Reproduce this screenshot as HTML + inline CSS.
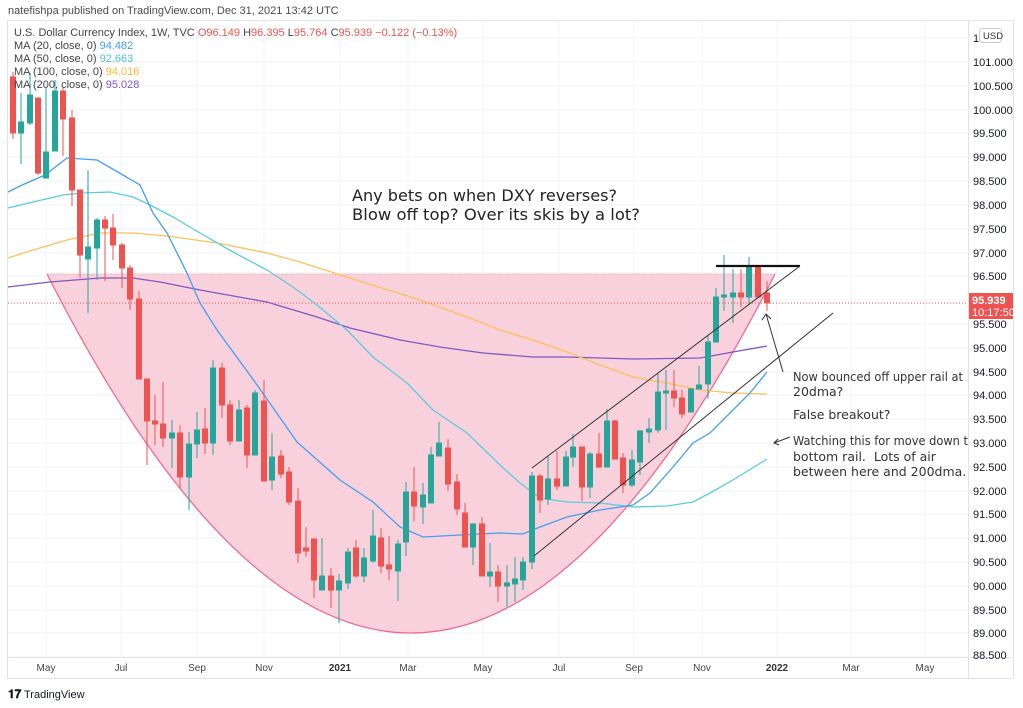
<!DOCTYPE html>
<html><head><meta charset="utf-8"><style>
html,body{margin:0;padding:0;background:#fff;}
svg{display:block;font-family:"Liberation Sans",sans-serif;}
</style></head><body>
<svg width="1023" height="708" viewBox="0 0 1023 708" xmlns="http://www.w3.org/2000/svg">
<rect width="1023" height="708" fill="#fff"/>
<text x="8" y="14" font-size="11" fill="#4a4a4a">natefishpa published on TradingView.com, Dec 31, 2021 13:42 UTC</text>
<rect x="7.5" y="20.5" width="1006" height="658" fill="#fff" stroke="#e0e3eb"/>
<!-- grid -->
<g stroke="#f0f3fa" stroke-width="1">
<line x1="8" x2="968" y1="38" y2="38"/><line x1="8" x2="968" y1="62" y2="62"/><line x1="8" x2="968" y1="86" y2="86"/><line x1="8" x2="968" y1="110" y2="110"/><line x1="8" x2="968" y1="133" y2="133"/><line x1="8" x2="968" y1="157" y2="157"/><line x1="8" x2="968" y1="181" y2="181"/><line x1="8" x2="968" y1="205" y2="205"/><line x1="8" x2="968" y1="229" y2="229"/><line x1="8" x2="968" y1="253" y2="253"/><line x1="8" x2="968" y1="276" y2="276"/><line x1="8" x2="968" y1="300" y2="300"/><line x1="8" x2="968" y1="324" y2="324"/><line x1="8" x2="968" y1="348" y2="348"/><line x1="8" x2="968" y1="372" y2="372"/><line x1="8" x2="968" y1="395" y2="395"/><line x1="8" x2="968" y1="419" y2="419"/><line x1="8" x2="968" y1="443" y2="443"/><line x1="8" x2="968" y1="467" y2="467"/><line x1="8" x2="968" y1="491" y2="491"/><line x1="8" x2="968" y1="514" y2="514"/><line x1="8" x2="968" y1="538" y2="538"/><line x1="8" x2="968" y1="562" y2="562"/><line x1="8" x2="968" y1="586" y2="586"/><line x1="8" x2="968" y1="610" y2="610"/><line x1="8" x2="968" y1="633" y2="633"/><line x1="8" x2="968" y1="657" y2="657"/>
<line x1="46" x2="46" y1="21" y2="657"/><line x1="121" x2="121" y1="21" y2="657"/><line x1="197" x2="197" y1="21" y2="657"/><line x1="264" x2="264" y1="21" y2="657"/><line x1="340" x2="340" y1="21" y2="657"/><line x1="408" x2="408" y1="21" y2="657"/><line x1="483" x2="483" y1="21" y2="657"/><line x1="559" x2="559" y1="21" y2="657"/><line x1="634" x2="634" y1="21" y2="657"/><line x1="702" x2="702" y1="21" y2="657"/><line x1="777" x2="777" y1="21" y2="657"/><line x1="851" x2="851" y1="21" y2="657"/><line x1="925" x2="925" y1="21" y2="657"/>
</g>
<!-- cup -->
<path d="M47,274 Q411,992 775,274 Z" fill="#f9d1dd" stroke="none"/>
<path d="M47,274 Q411,992 775,274" fill="none" stroke="#ec6a93" stroke-width="1.3"/>
<line x1="47" x2="775" y1="274" y2="274" stroke="#f4b3c6" stroke-width="1" stroke-dasharray="2,1"/>
<!-- MAs -->
<polyline fill="none" stroke="#7e57c2" stroke-width="1.3" points="8,287 50,282 100,278 133,278 160,282 200,290 267,302 317,317 350,328 400,340 440,347 483,353 533,357 567,357 633,359 700,358 733,352 767,346"/>
<polyline fill="none" stroke="#ffc05a" stroke-width="1.3" points="8,258 33,250 67,240 100,233 133,233 167,236 217,243 267,253 300,262 350,278 420,300 470,318 500,330 533,340 567,352 600,365 633,377 667,383 700,390 733,393 767,394"/>
<polyline fill="none" stroke="#5ccbdd" stroke-width="1.3" points="8,208 33,202 63,195 83,193 110,192 133,197 150,205 173,217 200,233 233,252 267,270 293,287 317,305 347,330 373,357 407,383 433,410 467,433 500,465 520,483 540,498 567,502 600,503 633,507 667,506 693,502 710,493 733,480 767,459"/>
<polyline fill="none" stroke="#42a0f0" stroke-width="1.3" points="8,192 20,186 45,175 67,158 97,160 123,175 140,185 153,213 167,233 187,273 200,303 217,330 255,382 297,442 340,480 373,502 400,527 423,537 460,535 500,533 523,534 540,527 567,517 600,510 633,505 650,493 673,467 693,443 710,433 733,410 750,393 767,372"/>
<!-- last price line -->
<line x1="8" x2="968" y1="303" y2="303" stroke="#ef5350" stroke-width="1" stroke-dasharray="1,2"/>
<!-- candles -->
<g stroke="#26a69a" stroke-width="1" fill="#26a69a">
<line x1="21" x2="21" y1="93" y2="164"/><rect x="18.5" y="122" width="5" height="11"/>
<line x1="30" x2="30" y1="73" y2="125"/><rect x="27.5" y="95" width="5" height="28"/>
<line x1="46" x2="46" y1="88" y2="178"/><rect x="43.5" y="152" width="5" height="26"/>
<line x1="55" x2="55" y1="80" y2="151"/><rect x="52.5" y="91" width="5" height="60"/>
<line x1="88" x2="88" y1="170" y2="313"/><rect x="85.5" y="247" width="5" height="12"/>
<line x1="97" x2="97" y1="218" y2="280"/><rect x="94.5" y="220" width="5" height="28"/>
<line x1="172" x2="172" y1="420" y2="468"/><rect x="169.5" y="433" width="5" height="5"/>
<line x1="189" x2="189" y1="432" y2="510"/><rect x="186.5" y="444" width="5" height="33"/>
<line x1="197" x2="197" y1="412" y2="458"/><rect x="194.5" y="430" width="5" height="14"/>
<line x1="213" x2="213" y1="360" y2="455"/><rect x="210.5" y="368" width="5" height="75"/>
<line x1="239" x2="239" y1="400" y2="441"/><rect x="236.5" y="410" width="5" height="31"/>
<line x1="255" x2="255" y1="390" y2="455"/><rect x="252.5" y="393" width="5" height="62"/>
<line x1="272" x2="272" y1="433" y2="490"/><rect x="269.5" y="457" width="5" height="23"/>
<line x1="322" x2="322" y1="538" y2="590"/><rect x="319.5" y="576" width="5" height="14"/>
<line x1="339" x2="339" y1="574" y2="623"/><rect x="336.5" y="581" width="5" height="9"/>
<line x1="348" x2="348" y1="548" y2="589"/><rect x="345.5" y="552" width="5" height="31"/>
<line x1="364" x2="364" y1="548" y2="582"/><rect x="361.5" y="558" width="5" height="18"/>
<line x1="373" x2="373" y1="510" y2="563"/><rect x="370.5" y="536" width="5" height="25"/>
<line x1="398" x2="398" y1="540" y2="601"/><rect x="395.5" y="544" width="5" height="27"/>
<line x1="406" x2="406" y1="482" y2="556"/><rect x="403.5" y="492" width="5" height="50"/>
<line x1="423" x2="423" y1="483" y2="524"/><rect x="420.5" y="495" width="5" height="12"/>
<line x1="431" x2="431" y1="447" y2="503"/><rect x="428.5" y="455" width="5" height="48"/>
<line x1="439" x2="439" y1="422" y2="456"/><rect x="436.5" y="443" width="5" height="13"/>
<line x1="473" x2="473" y1="523" y2="565"/><rect x="470.5" y="524" width="5" height="23"/>
<line x1="490" x2="490" y1="543" y2="587"/><rect x="487.5" y="572" width="5" height="4"/>
<line x1="507" x2="507" y1="565" y2="607"/><rect x="504.5" y="583" width="5" height="3"/>
<line x1="515" x2="515" y1="557" y2="602"/><rect x="512.5" y="579" width="5" height="5"/>
<line x1="523" x2="523" y1="557" y2="590"/><rect x="520.5" y="562" width="5" height="18"/>
<line x1="532" x2="532" y1="472" y2="569"/><rect x="529.5" y="476" width="5" height="86"/>
<line x1="548" x2="548" y1="456" y2="505"/><rect x="545.5" y="479" width="5" height="20"/>
<line x1="566" x2="566" y1="451" y2="486"/><rect x="563.5" y="457" width="5" height="29"/>
<line x1="573" x2="573" y1="434" y2="467"/><rect x="570.5" y="447" width="5" height="10"/>
<line x1="590" x2="590" y1="452" y2="498"/><rect x="587.5" y="454" width="5" height="33"/>
<line x1="607" x2="607" y1="409" y2="467"/><rect x="604.5" y="421" width="5" height="46"/>
<line x1="632" x2="632" y1="450" y2="487"/><rect x="629.5" y="460" width="5" height="25"/>
<line x1="640" x2="640" y1="430" y2="475"/><rect x="637.5" y="431" width="5" height="31"/>
<line x1="649" x2="649" y1="418" y2="443"/><rect x="646.5" y="429" width="5" height="3"/>
<line x1="658" x2="658" y1="374" y2="433"/><rect x="655.5" y="392" width="5" height="38"/>
<line x1="666" x2="666" y1="370" y2="430"/><rect x="663.5" y="391" width="5" height="2"/>
<line x1="691" x2="691" y1="388" y2="412"/><rect x="688.5" y="389" width="5" height="23"/>
<line x1="699" x2="699" y1="366" y2="389"/><rect x="696.5" y="385" width="5" height="4"/>
<line x1="708" x2="708" y1="335" y2="399"/><rect x="705.5" y="342" width="5" height="42"/>
<line x1="716" x2="716" y1="288" y2="342"/><rect x="713.5" y="297" width="5" height="45"/>
<line x1="724" x2="724" y1="255" y2="311"/><rect x="721.5" y="295" width="5" height="2"/>
<line x1="733" x2="733" y1="269" y2="323"/><rect x="730.5" y="293" width="5" height="4"/>
<line x1="749" x2="749" y1="257" y2="305"/><rect x="746.5" y="267" width="5" height="30"/>
</g>
<g stroke="#ef5350" stroke-width="1" fill="#ef5350">
<line x1="13" x2="13" y1="72" y2="139"/><rect x="10.5" y="77" width="5" height="56"/>
<line x1="38" x2="38" y1="98" y2="175"/><rect x="35.5" y="98" width="5" height="75"/>
<line x1="63" x2="63" y1="88" y2="156"/><rect x="60.5" y="91" width="5" height="28"/>
<line x1="72" x2="72" y1="110" y2="206"/><rect x="69.5" y="118" width="5" height="72"/>
<line x1="80" x2="80" y1="190" y2="278"/><rect x="77.5" y="190" width="5" height="65"/>
<line x1="105" x2="105" y1="216" y2="281"/><rect x="102.5" y="220" width="5" height="8"/>
<line x1="113" x2="113" y1="214" y2="260"/><rect x="110.5" y="228" width="5" height="17"/>
<line x1="122" x2="122" y1="243" y2="288"/><rect x="119.5" y="245" width="5" height="23"/>
<line x1="130" x2="130" y1="265" y2="310"/><rect x="127.5" y="268" width="5" height="31"/>
<line x1="139" x2="139" y1="291" y2="379"/><rect x="136.5" y="299" width="5" height="80"/>
<line x1="147" x2="147" y1="379" y2="465"/><rect x="144.5" y="379" width="5" height="42"/>
<line x1="155" x2="155" y1="395" y2="445"/><rect x="152.5" y="421" width="5" height="3"/>
<line x1="163" x2="163" y1="382" y2="447"/><rect x="160.5" y="424" width="5" height="14"/>
<line x1="180" x2="180" y1="425" y2="488"/><rect x="177.5" y="433" width="5" height="44"/>
<line x1="205" x2="205" y1="408" y2="454"/><rect x="202.5" y="429" width="5" height="14"/>
<line x1="222" x2="222" y1="363" y2="418"/><rect x="219.5" y="368" width="5" height="37"/>
<line x1="230" x2="230" y1="400" y2="445"/><rect x="227.5" y="405" width="5" height="36"/>
<line x1="247" x2="247" y1="405" y2="468"/><rect x="244.5" y="408" width="5" height="47"/>
<line x1="264" x2="264" y1="380" y2="481"/><rect x="261.5" y="401" width="5" height="80"/>
<line x1="281" x2="281" y1="450" y2="478"/><rect x="278.5" y="456" width="5" height="18"/>
<line x1="289" x2="289" y1="467" y2="505"/><rect x="286.5" y="472" width="5" height="30"/>
<line x1="298" x2="298" y1="488" y2="563"/><rect x="295.5" y="501" width="5" height="52"/>
<line x1="306" x2="306" y1="527" y2="557"/><rect x="303.5" y="548" width="5" height="3"/>
<line x1="314" x2="314" y1="539" y2="598"/><rect x="311.5" y="539" width="5" height="41"/>
<line x1="331" x2="331" y1="568" y2="608"/><rect x="328.5" y="576" width="5" height="14"/>
<line x1="356" x2="356" y1="540" y2="578"/><rect x="353.5" y="548" width="5" height="28"/>
<line x1="381" x2="381" y1="528" y2="573"/><rect x="378.5" y="538" width="5" height="28"/>
<line x1="389" x2="389" y1="536" y2="580"/><rect x="386.5" y="565" width="5" height="4"/>
<line x1="414" x2="414" y1="467" y2="521"/><rect x="411.5" y="492" width="5" height="14"/>
<line x1="448" x2="448" y1="439" y2="491"/><rect x="445.5" y="448" width="5" height="36"/>
<line x1="457" x2="457" y1="474" y2="515"/><rect x="454.5" y="482" width="5" height="27"/>
<line x1="465" x2="465" y1="503" y2="547"/><rect x="462.5" y="513" width="5" height="34"/>
<line x1="482" x2="482" y1="517" y2="576"/><rect x="479.5" y="524" width="5" height="52"/>
<line x1="498" x2="498" y1="565" y2="602"/><rect x="495.5" y="572" width="5" height="14"/>
<line x1="540" x2="540" y1="474" y2="513"/><rect x="537.5" y="476" width="5" height="24"/>
<line x1="557" x2="557" y1="451" y2="490"/><rect x="554.5" y="479" width="5" height="7"/>
<line x1="582" x2="582" y1="447" y2="501"/><rect x="579.5" y="447" width="5" height="40"/>
<line x1="599" x2="599" y1="433" y2="468"/><rect x="596.5" y="454" width="5" height="13"/>
<line x1="615" x2="615" y1="420" y2="459"/><rect x="612.5" y="421" width="5" height="38"/>
<line x1="623" x2="623" y1="453" y2="493"/><rect x="620.5" y="458" width="5" height="27"/>
<line x1="674" x2="674" y1="370" y2="407"/><rect x="671.5" y="391" width="5" height="7"/>
<line x1="682" x2="682" y1="390" y2="418"/><rect x="679.5" y="398" width="5" height="16"/>
<line x1="741" x2="741" y1="269" y2="307"/><rect x="738.5" y="293" width="5" height="4"/>
<line x1="758" x2="758" y1="267" y2="297"/><rect x="755.5" y="267" width="5" height="30"/>
<line x1="767" x2="767" y1="281" y2="311"/><rect x="764.5" y="293" width="5" height="10"/>
</g>
<!-- drawings -->
<line x1="716" x2="800" y1="266" y2="266" stroke="#111" stroke-width="2.2"/>
<line x1="532" x2="800" y1="468" y2="266" stroke="#333" stroke-width="1"/>
<line x1="534" x2="833" y1="556" y2="313" stroke="#333" stroke-width="1"/>
<line x1="783" x2="766" y1="372" y2="314" stroke="#333" stroke-width="1"/>
<polyline points="762,320 766,314 771,319" fill="none" stroke="#333" stroke-width="1"/>
<line x1="790" x2="774" y1="437" y2="443" stroke="#333" stroke-width="1"/>
<polyline points="778,439 774,443 779,445" fill="none" stroke="#333" stroke-width="1"/>
<g font-family="'DejaVu Sans',sans-serif" fill="#222">
<text x="352" y="201" font-size="16" textLength="265" lengthAdjust="spacingAndGlyphs">Any bets on when DXY reverses?</text>
<text x="352" y="220" font-size="16" textLength="288" lengthAdjust="spacingAndGlyphs">Blow off top? Over its skis by a lot?</text>
</g>
<svg x="0" y="0" width="968" height="657" overflow="hidden">
<g font-family="'DejaVu Sans',sans-serif" fill="#333" font-size="12.5">
<text x="793" y="381" textLength="170" lengthAdjust="spacingAndGlyphs">Now bounced off upper rail at</text>
<text x="793" y="396">20dma?</text>
<text x="793" y="419">False breakout?</text>
<text x="793" y="445" textLength="182" lengthAdjust="spacingAndGlyphs">Watching this for move down to</text>
<text x="793" y="461" xml:space="preserve">bottom rail.  Lots of air</text>
<text x="793" y="476">between here and 200dma.</text>
</g>
</svg>
<!-- legend -->
<g font-size="11" fill="#444">
<text x="14" y="36">U.S. Dollar Currency Index, 1W, TVC  <tspan fill="#ef5350">O</tspan><tspan fill="#ef5350">96.149</tspan>  H<tspan fill="#ef5350">96.395</tspan>  L<tspan fill="#ef5350">95.764</tspan>  C<tspan fill="#ef5350">95.939</tspan>  <tspan fill="#ef5350">−0.122 (−0.13%)</tspan></text>
<text x="14" y="49">MA (20, close, 0)  <tspan fill="#42a0f0">94.482</tspan></text>
<text x="14" y="62">MA (50, close, 0)  <tspan fill="#4fc3d7">92.663</tspan></text>
<text x="14" y="75">MA (100, close, 0)  <tspan fill="#ffb733">94.016</tspan></text>
<text x="14" y="88">MA (200, close, 0)  <tspan fill="#7e57c2">95.028</tspan></text>
</g>
<!-- price axis -->
<line x1="968.5" x2="968.5" y1="21" y2="678" stroke="#e0e3eb"/>
<line x1="8" x2="1013" y1="657.5" y2="657.5" stroke="#e0e3eb"/>
<g font-size="11" fill="#131722">
<text x="973" y="42">10</text>
<text x="973" y="66">101.000</text><text x="973" y="90">100.500</text><text x="973" y="114">100.000</text><text x="973" y="137">99.500</text><text x="973" y="161">99.000</text><text x="973" y="185">98.500</text><text x="973" y="209">98.000</text><text x="973" y="233">97.500</text><text x="973" y="257">97.000</text><text x="973" y="280">96.500</text><text x="973" y="328">95.500</text><text x="973" y="352">95.000</text><text x="973" y="376">94.500</text><text x="973" y="399">94.000</text><text x="973" y="423">93.500</text><text x="973" y="447">93.000</text><text x="973" y="471">92.500</text><text x="973" y="495">92.000</text><text x="973" y="518">91.500</text><text x="973" y="542">91.000</text><text x="973" y="566">90.500</text><text x="973" y="590">90.000</text><text x="973" y="614">89.500</text><text x="973" y="637">89.000</text><text x="973" y="659">88.500</text>
</g>
<rect x="979.5" y="28.5" width="22" height="14" rx="3" fill="#fff" stroke="#c8cbd3"/>
<text x="983" y="39" font-size="9.5" fill="#333">USD</text>
<rect x="969" y="293" width="44" height="26" fill="#ef5350"/>
<text x="972" y="304" font-size="11" font-weight="bold" fill="#fff">95.939</text>
<text x="972" y="316" font-size="11" fill="#fff">10:17:50</text>
<!-- time axis -->
<g font-size="10" fill="#444" text-anchor="middle">
<text x="46" y="671">May</text><text x="121" y="671">Jul</text><text x="197" y="671">Sep</text><text x="264" y="671">Nov</text><text x="340" y="671" font-weight="bold" fill="#333">2021</text><text x="408" y="671">Mar</text><text x="483" y="671">May</text><text x="559" y="671">Jul</text><text x="634" y="671">Sep</text><text x="702" y="671">Nov</text><text x="777" y="671" font-weight="bold" fill="#333">2022</text><text x="851" y="671">Mar</text><text x="925" y="671">May</text>
</g>
<text x="8" y="698" font-size="12" font-weight="bold" fill="#131722">𝟏𝟕</text>
<text x="24" y="698" font-size="11" fill="#131722">TradingView</text>
</svg>
</body></html>
